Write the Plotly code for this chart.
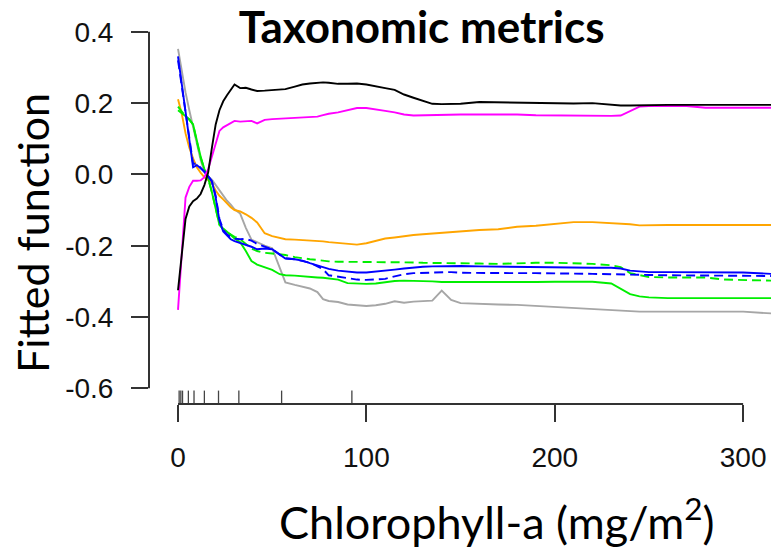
import plotly.graph_objects as go

# ---------------- data ----------------
chl = [0, 2, 4, 6, 8, 10, 12, 14, 16, 18, 20, 22, 24, 26, 28, 30, 33, 36, 39, 42,
       46, 50, 54, 57, 62, 66, 70, 74, 77, 80, 85, 90, 95, 100, 105, 110, 115, 120,
       125, 130, 135, 140, 145, 150, 160, 170, 180, 190, 200, 210, 220, 230, 235,
       240, 245, 250, 260, 270, 280, 290, 300, 315]

black = [-0.325, -0.22, -0.125, -0.09, -0.075, -0.068, -0.055, -0.03, 0.005, 0.075,
         0.14, 0.18, 0.205, 0.222, 0.237, 0.252, 0.242, 0.243, 0.238, 0.234,
         0.235, 0.236, 0.237, 0.239, 0.246, 0.252, 0.255, 0.257, 0.258, 0.257,
         0.254, 0.254, 0.255, 0.252, 0.248, 0.242, 0.237, 0.224, 0.215, 0.207,
         0.198, 0.197, 0.197, 0.198, 0.203, 0.202, 0.201, 0.199, 0.198, 0.199,
         0.200, 0.195, 0.193, 0.193, 0.194, 0.194, 0.195, 0.195, 0.195, 0.195,
         0.195, 0.195]

magenta = [-0.38, -0.22, -0.065, -0.035, -0.018, -0.018, -0.017, -0.008, 0.015, 0.05,
           0.085, 0.122, 0.132, 0.138, 0.144, 0.150, 0.148, 0.149, 0.150, 0.143,
           0.153, 0.155, 0.156, 0.157, 0.158, 0.159, 0.160, 0.162, 0.166, 0.170,
           0.174, 0.180, 0.186, 0.186, 0.183, 0.178, 0.174, 0.168, 0.165, 0.166,
           0.166, 0.167, 0.167, 0.168, 0.168, 0.169, 0.168, 0.166, 0.165, 0.165,
           0.164, 0.164, 0.165, 0.178, 0.190, 0.192, 0.192, 0.192, 0.187, 0.187,
           0.187, 0.187]

orange = [0.211, 0.17, 0.115, 0.075, 0.045, 0.02, 0.005, -0.008, -0.016, -0.025,
          -0.045, -0.06, -0.07, -0.082, -0.092, -0.100, -0.104, -0.112, -0.122, -0.135,
          -0.165, -0.173, -0.179, -0.182, -0.183, -0.184, -0.185, -0.186, -0.188, -0.190,
          -0.192, -0.195, -0.197, -0.193, -0.186, -0.180, -0.177, -0.173, -0.170, -0.168,
          -0.166, -0.165, -0.163, -0.159, -0.156, -0.154, -0.147, -0.144, -0.138, -0.134,
          -0.134, -0.136, -0.138, -0.140, -0.143, -0.142, -0.142, -0.142, -0.142, -0.142,
          -0.142, -0.142]

gray = [0.352, 0.29, 0.23, 0.18, 0.136, 0.085, 0.04, 0.008, -0.006, -0.015,
        -0.03, -0.042, -0.058, -0.074, -0.085, -0.098, -0.110, -0.150, -0.183, -0.190,
        -0.200, -0.207, -0.260, -0.303, -0.310, -0.314, -0.320, -0.330, -0.350, -0.355,
        -0.358, -0.365, -0.368, -0.369, -0.367, -0.363, -0.356, -0.360, -0.357, -0.355,
        -0.354, -0.326, -0.352, -0.361, -0.364, -0.365, -0.366, -0.369, -0.373, -0.376,
        -0.378, -0.381, -0.382, -0.384, -0.385, -0.385, -0.385, -0.385, -0.385, -0.385,
        -0.385, -0.390]

blue = [0.331, 0.256, 0.18, 0.11, 0.02, 0.026, 0.016, 0.008, -0.005, -0.02,
        -0.065, -0.13, -0.160, -0.171, -0.182, -0.187, -0.192, -0.198, -0.203, -0.210,
        -0.208, -0.210, -0.225, -0.236, -0.238, -0.242, -0.249, -0.255, -0.260, -0.265,
        -0.270, -0.273, -0.275, -0.275, -0.273, -0.270, -0.267, -0.264, -0.261, -0.259,
        -0.258, -0.257, -0.257, -0.257, -0.258, -0.259, -0.259, -0.260, -0.260, -0.261,
        -0.262, -0.262, -0.264, -0.270, -0.272, -0.274, -0.274, -0.274, -0.274, -0.275,
        -0.275, -0.279]

blue_dash = [0.32, 0.25, 0.17, 0.10, 0.03, 0.03, 0.018, 0.008, -0.005, -0.02,
             -0.06, -0.125, -0.155, -0.168, -0.176, -0.180, -0.182, -0.181, -0.186, -0.195,
             -0.203, -0.210, -0.225, -0.235, -0.238, -0.242, -0.248, -0.258, -0.266, -0.283,
             -0.287, -0.291, -0.295, -0.296, -0.295, -0.293, -0.286, -0.280, -0.277, -0.276,
             -0.275, -0.274, -0.274, -0.276, -0.277, -0.277, -0.277, -0.277, -0.277, -0.278,
             -0.279, -0.280, -0.280, -0.281, -0.282, -0.282, -0.283, -0.283, -0.284, -0.284,
             -0.285, -0.285]

green = [0.18, 0.172, 0.165, 0.155, 0.14, 0.094, 0.05, 0.015, -0.01, -0.05,
         -0.10, -0.142, -0.152, -0.160, -0.170, -0.180, -0.190, -0.215, -0.243, -0.253,
         -0.260, -0.268, -0.280, -0.283, -0.284, -0.285, -0.287, -0.289, -0.290, -0.292,
         -0.295, -0.305, -0.307, -0.307, -0.306, -0.302, -0.299, -0.298, -0.298, -0.298,
         -0.300, -0.302, -0.302, -0.303, -0.304, -0.304, -0.303, -0.302, -0.301, -0.301,
         -0.301, -0.306, -0.320, -0.336, -0.342, -0.345, -0.347, -0.347, -0.347, -0.347,
         -0.347, -0.347]

green_dash = [0.19, 0.175, 0.163, 0.153, 0.14, 0.092, 0.048, 0.013, -0.012, -0.05,
              -0.10, -0.140, -0.155, -0.162, -0.168, -0.175, -0.182, -0.195, -0.208, -0.215,
              -0.220, -0.222, -0.224, -0.226, -0.232, -0.236, -0.238, -0.240, -0.242, -0.244,
              -0.245, -0.245, -0.245, -0.246, -0.246, -0.246, -0.247, -0.247, -0.247, -0.248,
              -0.248, -0.248, -0.249, -0.249, -0.250, -0.251, -0.249, -0.248, -0.248, -0.249,
              -0.251, -0.255, -0.260, -0.277, -0.283, -0.288, -0.289, -0.289, -0.289, -0.295,
              -0.297, -0.298]

rug = [0.6, 1.5, 2.4, 5.5, 8.5, 14, 21.5, 32.3, 55, 92.3]

y_ticks = [-0.6, -0.4, -0.2, 0.0, 0.2, 0.4]
y_ticklabels = ["-0.6", "-0.4", "-0.2", "0.0", "0.2", "0.4"]
x_ticks = [0, 100, 200, 300]
x_ticklabels = ["0", "100", "200", "300"]

series = [
    (gray, "#a6a6a6", "solid"),
    (orange, "#ffa500", "solid"),
    (green, "#00ee00", "solid"),
    (green_dash, "#00ee00", "9px,5px"),
    (blue_dash, "#0000ff", "9px,5px"),
    (blue, "#0000ff", "solid"),
    (magenta, "#ff00ff", "solid"),
    (black, "#000000", "solid"),
]

fig = go.Figure()
for vals, col, dash in series:
    fig.add_trace(go.Scatter(x=chl, y=vals, mode="lines",
                             line=dict(color=col, width=1.9, dash=dash),
                             showlegend=False, hoverinfo="skip"))

fig.add_trace(go.Scatter(x=rug, y=[-0.628] * len(rug), mode="markers",
                         marker=dict(symbol="line-ns", size=11,
                                     line=dict(color="#444444", width=1.3)),
                         showlegend=False, hoverinfo="skip"))

tick_font = dict(family="Liberation Sans, Arial, sans-serif", size=28, color="#111111")
title_font = "Lato, sans-serif"

fig.update_layout(
    width=771, height=550,
    margin=dict(l=149, r=0, t=20, b=146),
    plot_bgcolor="white", paper_bgcolor="white",
    title=dict(text="<b>Taxonomic metrics</b>", x=0.547, xanchor="center",
               y=1 - 28 / 550, yanchor="middle",
               font=dict(family=title_font, size=44, color="black")),
    xaxis=dict(range=[-15.4, 314.8], showgrid=False, zeroline=False, showline=False,
               tickvals=x_ticks, ticktext=x_ticklabels, ticks="outside", ticklen=17,
               tickwidth=2, tickcolor="#333333", tickfont=tick_font,
               ticklabelstandoff=11),
    yaxis=dict(range=[-0.644, 0.433], showgrid=False, zeroline=False, showline=False,
               tickvals=y_ticks, ticktext=y_ticklabels, ticks="outside", ticklen=17,
               tickwidth=2, tickcolor="#333333", tickfont=tick_font,
               ticklabelstandoff=12),
    annotations=[
        dict(text="Chlorophyll-a (mg/m<sup>2</sup>)", xref="paper", yref="paper",
             x=(497 - 149) / 622, y=(404 - 519) / 384, xanchor="center", yanchor="middle",
             showarrow=False, font=dict(family=title_font, size=45, color="black")),
        dict(text="Fitted function", xref="paper", yref="paper",
             x=(32 - 149) / 622, y=(404 - 233) / 384, xanchor="center", yanchor="middle",
             textangle=-90, showarrow=False,
             font=dict(family=title_font, size=43, color="black")),
    ],
    shapes=[
        dict(type="line", xref="paper", yref="y", x0=0, x1=0, y0=-0.6, y1=0.4,
             line=dict(color="#333333", width=2)),
        dict(type="line", xref="x", yref="paper", x0=0, x1=300, y0=0, y1=0,
             line=dict(color="#333333", width=2)),
    ],
)

fig.write_html("out.html", config={"displayModeBar": False},
               post_script="document.body.style.margin='0';document.body.style.padding='0';")
